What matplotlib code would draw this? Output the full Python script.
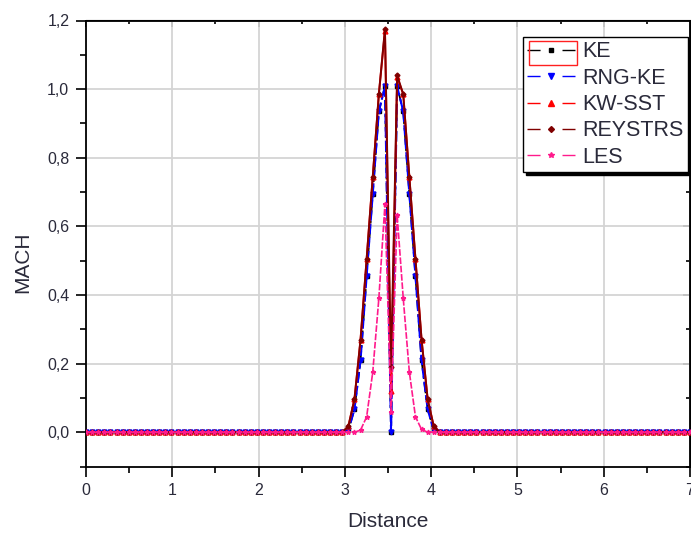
import numpy as np
import matplotlib
matplotlib.use("Agg")
import matplotlib.pyplot as plt
from matplotlib.lines import Line2D
from matplotlib.patches import Rectangle
from matplotlib.ticker import MultipleLocator, FuncFormatter

plt.rcParams['font.family'] = ['Liberation Sans', 'DejaVu Sans']

# sample grid (100 points from 0 to 7)
distance = np.linspace(0, 7, 100)

# values: zeros before x~3, peak segment (15 points), zeros after x~4
ke_peak      = [0.005, 0.067, 0.21, 0.456, 0.695, 0.935, 1.008, 0.0, 1.008, 0.935, 0.695, 0.456, 0.21, 0.067, 0.005]
rng_ke_peak  = [0.005, 0.067, 0.21, 0.456, 0.695, 0.935, 1.008, 0.0, 1.008, 0.935, 0.695, 0.456, 0.21, 0.067, 0.005]
kw_sst_peak  = [0.017, 0.096, 0.27, 0.505, 0.744, 0.985, 1.17, 0.12, 1.035, 0.985, 0.744, 0.505, 0.27, 0.096, 0.017]
reystrs_peak = [0.017, 0.096, 0.27, 0.505, 0.744, 0.985, 1.175, 0.19, 1.04, 0.985, 0.744, 0.505, 0.27, 0.096, 0.017]
les_peak     = [0.0, 0.0, 0.006, 0.045, 0.175, 0.39, 0.665, 0.06, 0.633, 0.39, 0.175, 0.045, 0.008, 0.0, 0.0]

ke      = [0.0] * 43 + ke_peak + [0.0] * 42
rng_ke  = [0.0] * 43 + rng_ke_peak + [0.0] * 42
kw_sst  = [0.0] * 43 + kw_sst_peak + [0.0] * 42
reystrs = [0.0] * 43 + reystrs_peak + [0.0] * 42
les     = [0.0] * 43 + les_peak + [0.0] * 42

labels = ['KE', 'RNG-KE', 'KW-SST', 'REYSTRS', 'LES']
x_ticks = [0, 1, 2, 3, 4, 5, 6, 7]
y_ticks = [0.0, 0.2, 0.4, 0.6, 0.8, 1.0, 1.2]

W, H = 691, 534
fig = plt.figure(figsize=(W / 100, H / 100), dpi=100)
L, R, T, B = 86, 690, 20.5, 466.5
ax = fig.add_axes([L / W, 1 - B / H, (R - L) / W, (B - T) / H])

styles = [
    dict(color='black', marker='s', ms=2.5, lw=1.3, ls=(0, (6, 2, 1.5, 2))),
    dict(color='#0000ff', marker='v', ms=3.5, lw=1.5, ls=(0, (5, 1.5))),
    dict(color='#ff0000', marker='^', ms=3.5, lw=1.4, ls='-'),
    dict(color='#800000', marker='D', ms=2.5, lw=1.4, ls='-'),
    dict(color='#ff1a8c', marker='*', ms=3.5, lw=1.2, ls=(0, (4, 1))),
]
for ys, st in zip([ke, rng_ke, kw_sst, reystrs, les], styles):
    ax.plot(distance, ys, color=st['color'], marker=st['marker'], markersize=st['ms'],
            linewidth=st['lw'], linestyle=st['ls'], zorder=3, clip_on=True)

ax.set_xlim(0, 7)
ax.set_ylim(-0.1, 1.2)
ax.set_xticks(x_ticks)
ax.set_yticks(y_ticks)
ax.xaxis.set_minor_locator(MultipleLocator(0.5))
ax.yaxis.set_minor_locator(MultipleLocator(0.1))
ax.yaxis.set_major_formatter(FuncFormatter(lambda v, p: f"{v:.1f}".replace('.', ',')))
ax.grid(True, which='major', color='#d4d4d4', linewidth=1.3, zorder=0)
ax.set_axisbelow(True)
for s in ax.spines.values():
    s.set_linewidth(1.3)
ax.tick_params(which='major', direction='out', length=7, width=1.2, labelsize=11.5,
               labelcolor='#2a2a3a', pad=5)
ax.tick_params(which='minor', direction='out', length=4, width=1.2)
ax.tick_params(top=False, right=False)

sec_x = ax.secondary_xaxis('top')
sec_x.set_xticks(x_ticks)
sec_x.xaxis.set_minor_locator(MultipleLocator(0.5))
sec_x.tick_params(which='both', direction='in', labeltop=False, width=1.2)
sec_x.tick_params(which='major', length=5)
sec_x.tick_params(which='minor', length=3)
sec_y = ax.secondary_yaxis('right')
sec_y.set_yticks(y_ticks)
sec_y.yaxis.set_minor_locator(MultipleLocator(0.1))
sec_y.tick_params(which='both', direction='in', labelright=False, width=1.2)
sec_y.tick_params(which='major', length=5)
sec_y.tick_params(which='minor', length=3)

ax.set_xlabel('Distance', fontsize=15, color='#2a2a3a')
ax.set_ylabel('MACH', fontsize=15, color='#2a2a3a')
ax.xaxis.set_label_coords(0.5, (B - 512) / (B - T))
ax.yaxis.set_label_coords((32 - L) / (R - L), (B - 262) / (B - T))

handles = [Line2D([], [], color=st['color'], marker=st['marker'], markersize=st['ms'] + 0.5,
                  linewidth=1.0, dashes=(9.4, 15.8)) for st in styles]
leg = ax.legend(handles, labels, loc='upper right',
                bbox_to_anchor=(688 / W, 1 - 37 / H), bbox_transform=fig.transFigure,
                fontsize=15.5, frameon=True, fancybox=False, framealpha=1,
                edgecolor='black', shadow={'color': 'black', 'alpha': 1},
                handlelength=2.2, handletextpad=0.35, labelspacing=0.25,
                borderpad=0.2, borderaxespad=0, numpoints=1)
leg.get_frame().set_linewidth(1.0)
for t in leg.get_texts():
    t.set_color('#2a2a3a')

fig.patches.append(Rectangle((529 / W, 1 - 65 / H), 48 / W, 24 / H, transform=fig.transFigure,
                             fill=False, edgecolor='#ff2020', linewidth=1.0, zorder=10))

fig.savefig('out.png', dpi=100)
